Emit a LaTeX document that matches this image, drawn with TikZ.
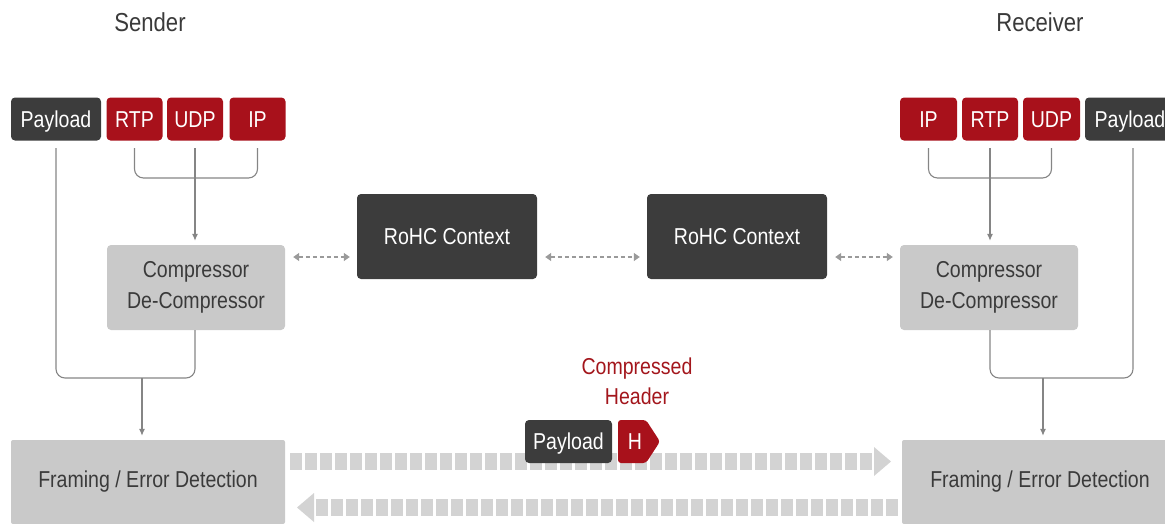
\documentclass[tikz,border=0pt]{standalone}
\usepackage{fontspec}
\setmainfont[FakeStretch=0.85]{Liberation Sans}
\usetikzlibrary{arrows.meta,calc}
\definecolor{dk}{HTML}{3C3C3C}
\definecolor{rd}{HTML}{A8111B}
\definecolor{lg}{HTML}{C9C9C9}
\definecolor{sq}{HTML}{D3D3D3}
\definecolor{ln}{HTML}{858585}
\definecolor{tx}{HTML}{3A3A3A}
\definecolor{rt}{HTML}{A3161C}
\definecolor{da}{HTML}{9A9A9A}
\begin{document}
\begin{tikzpicture}[x=1pt,y=-1pt,
  box/.style={rectangle, rounded corners=4pt, inner sep=0pt, font=\fontsize{23}{31}\selectfont},
  darkbox/.style={box, fill=dk, text=white, minimum height=43pt, text height=16.5pt, text depth=0pt},
  redbox/.style={box, fill=rd, text=white, minimum height=43pt, minimum width=56pt, text height=16.5pt, text depth=0pt},
  greybox/.style={box, fill=lg, text=tx, align=center, minimum height=85pt, minimum width=178pt},
  ctxbox/.style={box, fill=dk, text=white, minimum height=85pt, minimum width=180pt},
  framebox/.style={box, rounded corners=2pt, fill=lg, text=tx, minimum height=84pt},
  title/.style={font=\fontsize{26}{30}\selectfont, text=tx},
  conn/.style={draw=ln, line width=1.1pt},
  connarrow/.style={conn, -{Latex[length=7pt,width=6pt]}, shorten >=4pt},
  dasharrow/.style={draw=da, line width=1.3pt, dash pattern=on 4pt off 3pt,
     {Triangle[length=6pt,width=8pt]}-{Triangle[length=6pt,width=8pt]}},
  sqr/.style={fill=sq}
]
\useasboundingbox (0,0) rectangle (1165,523);
\clip (0,0) rectangle (1165,523);

% titles
\node[title] (sender) at (150,22) {Sender};
\node[title] (receiver) at (1040,22) {Receiver};

% sender header boxes
\node[darkbox, minimum width=90pt] (payS) at (56,119) {Payload};
\node[redbox] (rtpS) at (134.5,119) {RTP};
\node[redbox] (udpS) at (195,119) {UDP};
\node[redbox] (ipS) at (257.5,119) {IP};

% receiver header boxes
\node[redbox, minimum width=57pt] (ipR) at (928.5,119) {IP};
\node[redbox] (rtpR) at (990,119) {RTP};
\node[redbox, minimum width=57pt] (udpR) at (1051.5,119) {UDP};
\node[darkbox, minimum width=90pt] (payR) at (1130,119) {Payload};

% compressors
\node[greybox] (compS) at (196,287.5) {Compressor\\De-Compressor};
\node[greybox] (compR) at (989,287.5) {Compressor\\De-Compressor};

% contexts
\node[ctxbox] (rohcL) at (447,236.5) {RoHC Context};
\node[ctxbox] (rohcR) at (737,236.5) {RoHC Context};

% framing
\node[framebox, minimum width=274pt] (frS) at (148,482) {Framing / Error Detection};
\node[framebox, minimum width=276pt] (frR) at (1040,482) {Framing / Error Detection};

% helper coordinates
\coordinate (yA) at (0,148);
\coordinate (yB) at (0,178);
\coordinate (yC) at (0,378);
\coordinate (yD) at (0,257);
\coordinate (payRline) at (1133,148);
\coordinate (mS) at (142,378);
\coordinate (mR) at (1043,378);

% sender connectors
\draw[conn, rounded corners=9pt] (rtpS |- yA) -- (rtpS |- yB) -- (ipS |- yB) -- (ipS |- yA);
\draw[connarrow] (udpS |- yA) -- (udpS |- compS.north);
\draw[conn, rounded corners=9pt] (payS |- yA) -- (payS |- yC) -- (udpS |- yC) -- (udpS |- compS.south);
\draw[connarrow] (mS) -- (mS |- frS.north);

% receiver connectors
\draw[conn, rounded corners=9pt] (ipR |- yA) -- (ipR |- yB) -- (udpR |- yB) -- (udpR |- yA);
\draw[connarrow] (rtpR |- yA) -- (rtpR |- compR.north);
\draw[conn, rounded corners=9pt] (rtpR |- compR.south) -- (rtpR |- yC) -- (payRline |- yC) -- (payRline);
\draw[connarrow] (mR) -- (mR |- frR.north);

% dashed context links
\draw[dasharrow, shorten <=8pt, shorten >=7pt] (compS.east |- yD) -- (rohcL.west |- yD);
\draw[dasharrow, shorten <=8pt, shorten >=7pt] (rohcL.east |- yD) -- (rohcR.west |- yD);
\draw[dasharrow, shorten <=8pt, shorten >=7pt] (rohcR.east |- yD) -- (compR.west |- yD);

% transmission bands
\foreach \i in {0,...,38} {
  \fill[sqr] ({290+15*\i},453) rectangle ({302+15*\i},470);
  \fill[sqr] ({316+15*\i},499) rectangle ({328+15*\i},516);
}
\fill[sqr] (874,447) -- (891,461.5) -- (874,476) -- cycle;
\fill[sqr] (314,493) -- (297,507.5) -- (314,522) -- cycle;

% packet on the wire
\node[darkbox, minimum width=87pt] (payM) at (568.5,441.5) {Payload};
\fill[rd, rounded corners=3pt] (618,420) -- (646,420) -- (660,441.5) -- (646,463) -- (618,463) -- cycle;
\node[font=\fontsize{23}{31}\selectfont, text=white, inner sep=0pt] (hM) at (635,441.5) {H};
\node[font=\fontsize{23}{30}\selectfont, text=rt, align=center, inner sep=0pt] (lblM) at (637,381) {Compressed\\Header};
\end{tikzpicture}
\end{document}
